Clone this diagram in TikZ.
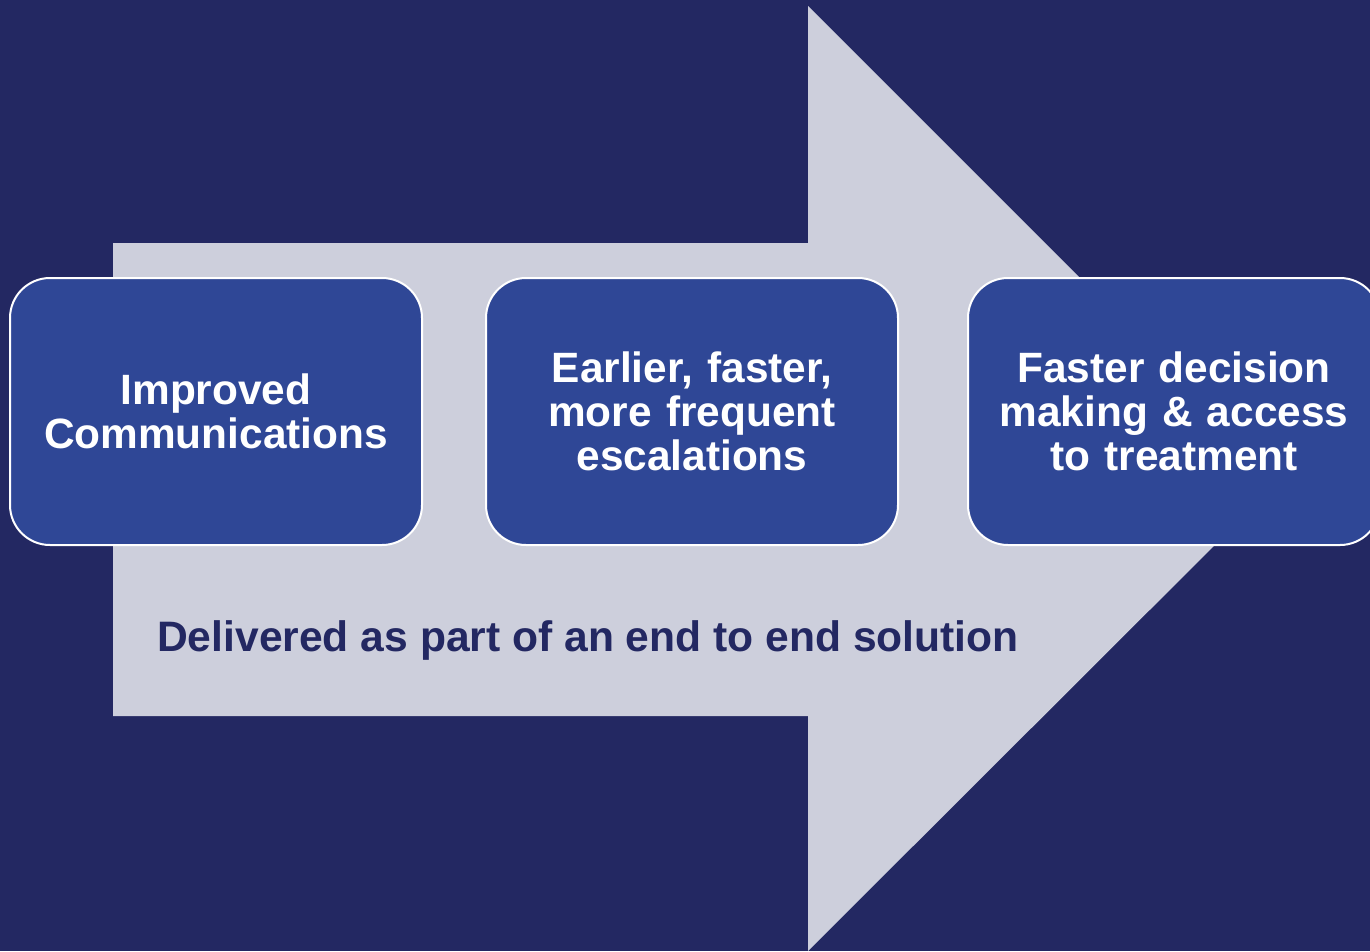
\documentclass[tikz,border=0pt]{standalone}
\usepackage{fontspec}
\setmainfont{Liberation Sans}
\usetikzlibrary{positioning}
\definecolor{navy}{HTML}{232862}
\definecolor{boxblue}{HTML}{2F4796}
\definecolor{arrowgrey}{HTML}{CDCFDC}
\tikzset{
  stagebox/.style={draw=white,line width=2pt,fill=boxblue,rounded corners=40pt,
    minimum width=412pt,minimum height=267pt,text width=395pt,align=center,
    text=white,font=\fontsize{42.4}{44}\selectfont\bfseries,inner sep=0pt},
}
\begin{document}
\begin{tikzpicture}[x=1pt,y=-1pt]
\useasboundingbox (0,0) rectangle (1370,951);
\clip (0,0) rectangle (1370,951);
\fill[navy] (0,0) rectangle (1370,951);
\fill[arrowgrey] (113,243) -- (808,243) -- (808,6) -- (1281,479) -- (808,951) -- (808,716) -- (113,716) -- cycle;
\node[stagebox] (comms) at (216,411.5) {\raisebox{2pt}{\parbox{395pt}{\centering Improved\\Communications}}};
\node[stagebox,right=62pt of comms] (escal) {\raisebox{2pt}{\parbox{395pt}{\centering Earlier, faster,\\more frequent\\escalations}}};
\node[stagebox,right=68pt of escal] (treat) {\raisebox{2pt}{\parbox{395pt}{\centering Faster decision\\making \& access\\to treatment}}};
\node[anchor=base west,inner sep=0pt,text=navy,font=\fontsize{42.6}{44}\selectfont\bfseries] (deliv) at (157,651) {Delivered as part of an end to end solution};
\end{tikzpicture}
\end{document}
